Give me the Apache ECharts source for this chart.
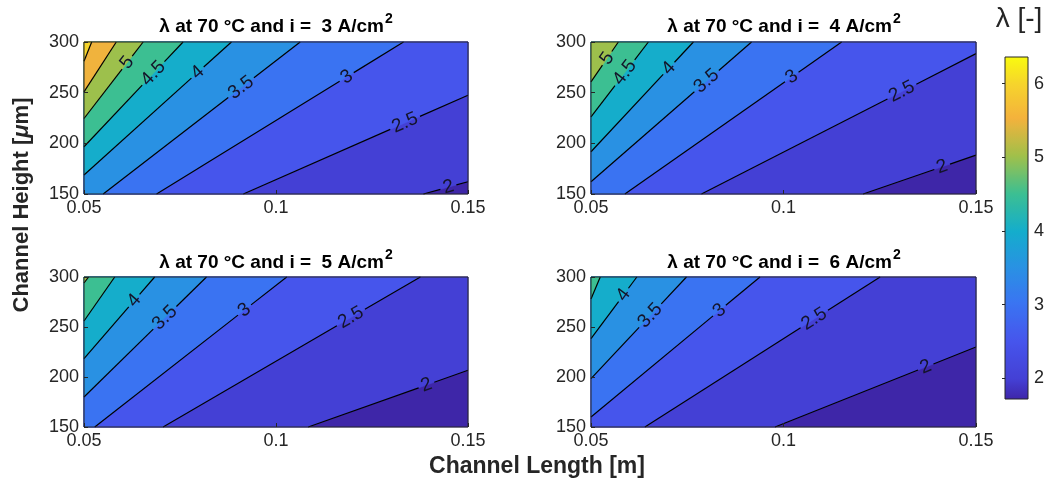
<!DOCTYPE html>
<html>
<head>
<meta charset="utf-8">
<script src="https://cdn.jsdelivr.net/npm/echarts@6/dist/echarts.min.js"></script>
<style>
  html, body { margin: 0; padding: 0; background: #fff; }
  #chart { width: 1053px; height: 485px; }
</style>
</head>
<body>
<div id="chart"></div>
<script>
// contour levels of lambda [-]
const levels = [2, 2.5, 3, 3.5, 4, 4.5, 5, 5.5, 6];
const currents = [3, 4, 5, 6];   // A/cm^2, one panel each
const xTicks = [0.05, 0.1, 0.15];          // channel length [m]
const yTicks = [150, 200, 250, 300];       // channel height [um]
const cbarTicks = [2, 3, 4, 5, 6];
const lamMin = 1.72;
const lamMax = 6.36;

// each contour is read as a straight segment: start on bottom/left edge, end on top/right edge
const lineStart3 = [[0.1384, 150], [0.0915, 150], [0.0689, 150], [0.0550, 150], [0.05, 168.7], [0.05, 196.6], [0.05, 224.5], [0.05, 250.8], [0.05, 281]];
const lineEnd3 = [[0.15, 162.1], [0.15, 247.5], [0.1332, 300], [0.1063, 300], [0.0884, 300], [0.0758, 300], [0.0654, 300], [0.0584, 300], [0.052, 300]];
const labelAt3 = [0.56, 0.72, 0.77, 0.70, 0.77, 0.70, 0.73, -1, -1];

const lineStart4 = [[0.1207, 150], [0.0787, 150], [0.0588, 150], [0.05, 162.1], [0.05, 191.7], [0.05, 226.1], [0.05, 260.6]];
const lineEnd4 = [[0.15, 188.4], [0.15, 288.5], [0.1151, 300], [0.0917, 300], [0.0766, 300], [0.0649, 300], [0.0571, 300]];
const labelAt4 = [0.70, 0.73, 0.77, 0.72, 0.76, 0.59, 0.59];

const lineStart5 = [[0.1084, 150], [0.0706, 150], [0.0528, 150], [0.05, 180], [0.05, 218.3], [0.05, 256], [0.05, 294]];
const lineEnd5 = [[0.15, 206.7], [0.1376, 300], [0.1028, 300], [0.0819, 300], [0.0684, 300], [0.058, 300], [0.0512, 300]];
const labelAt5 = [0.74, 0.73, 0.78, 0.66, 0.71, -1, -1];

const lineStart6 = [[0.0978, 150], [0.0640, 150], [0.05, 160], [0.05, 198.3], [0.05, 238.3], [0.05, 278]];
const lineEnd6 = [[0.15, 230], [0.1251, 300], [0.0939, 300], [0.0748, 300], [0.0619, 300], [0.0524, 300]];
const labelAt6 = [0.75, 0.72, 0.76, 0.62, 0.71, -1];

const starts = [lineStart3, lineStart4, lineStart5, lineStart6];
const ends = [lineEnd3, lineEnd4, lineEnd5, lineEnd6];
const labelAts = [labelAt3, labelAt4, labelAt5, labelAt6];

// parula-like colormap
const cmapStops = [[0, '#3e26a8'], [0.06, '#4440d5'], [0.17, '#4655ec'], [0.28, '#3a74f2'], [0.38, '#2a90e4'],
  [0.49, '#14adcc'], [0.60, '#3cbf92'], [0.71, '#a0c04a'], [0.82, '#f4b23c'], [0.92, '#f6d42c'], [1, '#f9fb0e']];

function hexRgb(h) { return [1, 3, 5].map(i => parseInt(h.slice(i, i + 2), 16)); }
function cmap(t) {
  for (let i = 1; i < cmapStops.length; i++) {
    if (t <= cmapStops[i][0]) {
      const [t0, c0] = cmapStops[i - 1], [t1, c1] = cmapStops[i];
      const f = (t - t0) / (t1 - t0), a = hexRgb(c0), b = hexRgb(c1);
      return 'rgb(' + a.map((v, k) => Math.round(v + (b[k] - v) * f)).join(',') + ')';
    }
  }
  return cmapStops[cmapStops.length - 1][1];
}
const cmapColors = [];
for (let i = 0; i <= 100; i++) cmapColors.push(cmap(i / 100));

const FONT = '"Liberation Sans", Arial, Helvetica, sans-serif';
const AX = '#262626';
const LABEL_PX = 19;

const grids = [
  { left: 84, top: 42, width: 384, height: 152 },
  { left: 591, top: 42, width: 385, height: 152 },
  { left: 84, top: 277, width: 384, height: 150 },
  { left: 591, top: 277, width: 385, height: 150 },
  { left: 1005, top: 57, width: 23, height: 342 }
];

function renderFill(params, api) {
  const cs = params.coordSys;
  const L = cs.x, R = cs.x + cs.width, T = cs.y, B = cs.y + cs.height;
  const color = api.visual('color');
  let pts;
  if (params.dataIndex === 0) {
    pts = [[L, T], [R, T], [R, B], [L, B]];
  } else {
    const p1 = api.coord([api.value(0), api.value(1)]);
    const p2 = api.coord([api.value(2), api.value(3)]);
    pts = [p1, p2];
    if (Math.abs(p2[0] - R) < 0.6) pts.push([R, T]);
    pts.push([L, T]);
    if (Math.abs(p1[1] - B) < 0.6) pts.push([L, B]);
  }
  return { type: 'polygon', shape: { points: pts }, style: { fill: color, stroke: color, lineWidth: 0.6 } };
}

function renderContour(params, api) {
  const p1 = api.coord([api.value(0), api.value(1)]);
  const p2 = api.coord([api.value(2), api.value(3)]);
  const lev = api.value(4), t = api.value(5);
  const dx = p2[0] - p1[0], dy = p2[1] - p1[1];
  const len = Math.hypot(dx, dy);
  const at = f => [p1[0] + dx * f, p1[1] + dy * f];
  const seg = (a, b) => ({ type: 'line', shape: { x1: at(a)[0], y1: at(a)[1], x2: at(b)[0], y2: at(b)[1] },
    style: { stroke: '#000', lineWidth: 1.2 } });
  const children = [];
  if (!(t >= 0)) {
    children.push(seg(0, 1));
  } else {
    const txt = String(lev);
    const w = (txt.replace('.', '').length * 0.556 + (txt.includes('.') ? 0.278 : 0)) * LABEL_PX;
    const half = (w / 2 + 3) / len;
    const a = Math.max(0, t - half), b = Math.min(1, t + half);
    if (a > 0) children.push(seg(0, a));
    if (b < 1) children.push(seg(b, 1));
    const c = at(t);
    children.push({ type: 'text', x: c[0], y: c[1], rotation: -Math.atan2(dy, dx),
      style: { text: txt, font: LABEL_PX + 'px ' + FONT, fill: '#14142a', align: 'center', verticalAlign: 'middle' } });
  }
  return { type: 'group', children };
}

function renderFrame(params) {
  const cs = params.coordSys;
  return { type: 'rect', shape: { x: cs.x, y: cs.y, width: cs.width, height: cs.height },
    style: { fill: 'none', stroke: AX, lineWidth: 1 } };
}

const xAxes = [], yAxes = [], series = [], fillIdx = [];
currents.forEach((cur, p) => {
  xAxes.push({
    gridIndex: p, type: 'value', min: xTicks[0], max: xTicks[xTicks.length - 1], interval: 0.05, z: 5,
    axisLine: { show: false }, splitLine: { show: false },
    axisTick: { inside: true, length: 4, lineStyle: { color: AX } },
    axisLabel: { color: AX, fontSize: 18, fontFamily: FONT, margin: 5,
      formatter: v => String(+v.toFixed(2)) }
  });
  yAxes.push({
    gridIndex: p, type: 'value', min: yTicks[0], max: yTicks[yTicks.length - 1], interval: 50, z: 5,
    axisLine: { show: false }, splitLine: { show: false },
    axisTick: { inside: true, length: 4, lineStyle: { color: AX } },
    axisLabel: { color: AX, fontSize: 18, fontFamily: FONT, margin: 5 }
  });
  const lv = levels.slice(0, starts[p].length);
  const fillData = [[xTicks[0], yTicks[0], xTicks[2], yTicks[3], lamMin]];
  const lineData = [];
  lv.forEach((L, k) => {
    const s = starts[p][k], e = ends[p][k];
    fillData.push([s[0], s[1], e[0], e[1], L]);
    lineData.push([s[0], s[1], e[0], e[1], L, labelAts[p][k]]);
  });
  fillIdx.push(series.length);
  series.push({ type: 'custom', xAxisIndex: p, yAxisIndex: p, renderItem: renderFill, data: fillData,
    encode: { x: [0, 2], y: [1, 3] }, silent: true, z: 1 });
  series.push({ type: 'custom', xAxisIndex: p, yAxisIndex: p, renderItem: renderContour, data: lineData,
    encode: { x: [0, 2], y: [1, 3] }, silent: true, z: 2 });
  series.push({ type: 'custom', xAxisIndex: p, yAxisIndex: p, renderItem: renderFrame, data: [[xTicks[0], yTicks[0]]],
    silent: true, z: 6 });
});

// colorbar
xAxes.push({ gridIndex: 4, type: 'value', min: 0, max: 1, show: false });
yAxes.push({
  gridIndex: 4, type: 'value', position: 'right', min: lamMin, max: lamMax, z: 5,
  axisLine: { show: false }, splitLine: { show: false },
  axisTick: { inside: true, length: 3, customValues: cbarTicks, lineStyle: { color: AX } },
  axisLabel: { color: AX, fontSize: 18, fontFamily: FONT, margin: 6, customValues: cbarTicks }
});
series.push({
  type: 'custom', xAxisIndex: 4, yAxisIndex: 4, silent: true, data: [[0, lamMin, 1, lamMax]],
  encode: { x: [0, 2], y: [1, 3] },
  renderItem: (params, api) => {
    const a = api.coord([api.value(0), api.value(3)]);
    const b = api.coord([api.value(2), api.value(1)]);
    const stops = cmapColors.map((c, i) => ({ offset: i / (cmapColors.length - 1), color: c }));
    return { type: 'rect', shape: { x: a[0], y: a[1], width: b[0] - a[0], height: b[1] - a[1] },
      style: { fill: new echarts.graphic.LinearGradient(0, 1, 0, 0, stops), stroke: AX, lineWidth: 1 } };
  }
});

const titleCenters = [[276, 27], [784, 27], [276, 263], [784, 263]];
const graphic = currents.map((cur, p) => ({
  type: 'text', x: titleCenters[p][0], y: titleCenters[p][1],
  style: {
    text: '{t|λ at 70 °C and i =  ' + cur + ' A/cm}{s|2}',
    align: 'center', verticalAlign: 'middle',
    rich: {
      t: { font: 'bold 19px ' + FONT, fill: '#000' },
      s: { font: 'bold 14px ' + FONT, fill: '#000', padding: [0, 0, 16, 1] }
    }
  }
}));
graphic.push({
  type: 'text', x: 537, y: 467,
  style: { text: 'Channel Length [m]', font: 'bold 23px ' + FONT, fill: AX, align: 'center', verticalAlign: 'middle' }
});
graphic.push({
  type: 'text', x: 22, y: 205, rotation: Math.PI / 2,
  style: {
    text: '{a|Channel Height [}{m|μ}{a|m]}', align: 'center', verticalAlign: 'middle',
    rich: { a: { font: 'bold 22px ' + FONT, fill: AX }, m: { font: 'italic bold 22px ' + FONT, fill: AX } }
  }
});
graphic.push({
  type: 'text', x: 1019, y: 19,
  style: { text: 'λ [-]', font: '28px ' + FONT, fill: AX, align: 'center', verticalAlign: 'middle' }
});

const chart = echarts.init(document.getElementById('chart'), null, { renderer: 'canvas' });
chart.setOption({
  animation: false,
  backgroundColor: '#fff',
  grid: grids,
  xAxis: xAxes,
  yAxis: yAxes,
  visualMap: {
    type: 'continuous', show: false, min: lamMin, max: lamMax, dimension: 4,
    seriesIndex: fillIdx, inRange: { color: cmapColors }
  },
  graphic,
  series
});
</script>
</body>
</html>
